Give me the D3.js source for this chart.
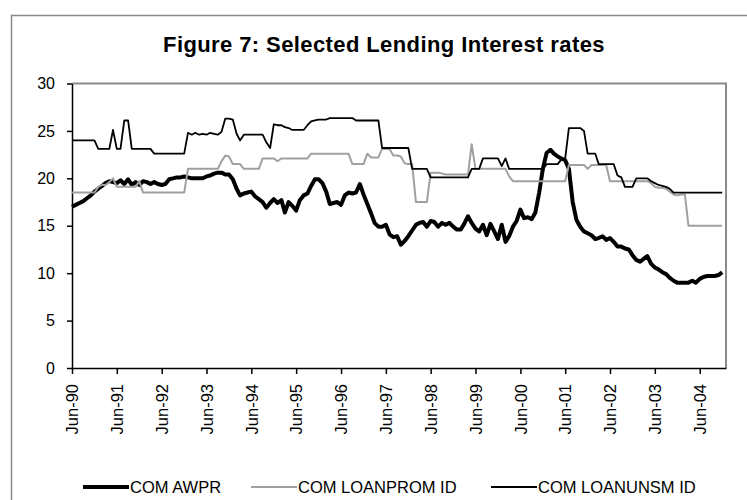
<!DOCTYPE html>
<html>
<head>
<meta charset="utf-8">
<script src="https://cdn.jsdelivr.net/npm/d3@7"></script>
<style>
  body { margin: 0; background: #fff; }
  svg { display: block; font-family: "Liberation Sans", Arial, sans-serif; }
  .axis path, .axis line { stroke: #000; stroke-width: 1.5; }
  .axis text { fill: #000; }
</style>
</head>
<body>
<svg id="chart" width="747" height="500"></svg>
<script>
// monthly observations, Jun-90 .. Dec-04
var firstMonth = new Date(1990, 5, 1),
    afterLast = new Date(2005, 0, 1);

var seriesNames = ["COM AWPR", "COM LOANPROM ID", "COM LOANUNSM ID"];

var comAwpr = [
  17.0,17.2,17.4,17.6,17.9,18.2,18.6,18.9,19.2,19.5,19.7,19.6,
  19.5,19.8,19.4,19.9,19.3,19.6,19.3,19.7,19.6,19.4,19.6,19.4,
  19.3,19.4,19.9,20.0,20.1,20.1,20.2,20.1,20.0,20.0,20.0,20.0,
  20.2,20.3,20.5,20.6,20.6,20.4,20.4,19.9,18.9,18.2,18.4,18.5,
  18.6,18.1,17.8,17.5,16.9,17.4,17.8,17.4,17.7,16.4,17.5,17.1,
  16.6,17.7,18.2,18.4,19.2,19.9,19.9,19.5,18.6,17.3,17.4,17.5,
  17.2,18.2,18.5,18.4,18.5,19.4,18.3,17.3,16.3,15.3,14.9,14.9,
  15.1,14.1,13.8,13.9,13.0,13.4,13.9,14.5,15.1,15.3,15.4,14.9,
  15.5,15.4,14.9,15.3,15.1,15.3,14.9,14.6,14.6,15.2,16.0,15.3,
  14.7,14.4,15.1,14.0,15.2,14.4,13.6,15.1,13.3,13.9,14.9,15.5,
  16.7,15.8,15.9,15.7,16.4,18.5,21.0,22.7,23.0,22.6,22.3,22.1,
  21.9,21.0,17.5,15.6,14.9,14.4,14.2,14.0,13.6,13.7,13.9,13.5,
  13.7,13.3,12.8,12.8,12.6,12.5,11.9,11.4,11.2,11.5,11.8,11.0,
  10.6,10.4,10.1,9.9,9.5,9.2,9.0,9.0,9.0,9.0,9.2,9.0,
  9.4,9.6,9.7,9.7,9.7,9.8,10.1
];

var comLoanPromId = [
  18.5,18.5,18.5,18.5,18.5,18.5,18.5,19.1,19.3,19.3,19.6,20.0,
  19.1,19.1,19.1,19.1,19.1,19.1,19.7,18.5,18.5,18.5,18.5,18.5,
  18.5,18.5,18.5,18.5,18.5,18.5,18.5,21.0,21.0,21.0,21.0,21.0,
  21.0,21.0,21.0,21.0,21.8,22.4,22.3,21.5,21.5,21.5,21.0,21.0,
  21.0,21.0,21.0,22.1,22.1,22.1,22.1,21.8,22.1,22.1,22.1,22.1,
  22.1,22.1,22.1,22.1,22.6,22.6,22.6,22.6,22.6,22.6,22.6,22.6,
  22.6,22.6,22.6,21.5,21.5,21.5,21.5,22.6,22.2,22.2,22.2,23.1,
  23.1,23.1,22.4,22.4,22.3,21.6,21.5,21.5,17.5,17.5,17.5,17.5,
  20.6,20.6,20.6,20.5,20.4,20.4,20.4,20.4,20.4,20.4,20.4,23.6,
  21.0,21.0,21.0,21.0,21.0,21.0,21.0,21.0,21.0,20.2,19.7,19.7,
  19.7,19.7,19.7,19.7,19.7,19.7,19.7,19.7,19.7,19.7,19.7,19.7,
  19.7,21.4,21.4,21.4,21.4,21.4,21.0,21.4,21.4,21.4,21.4,21.4,
  19.7,19.7,19.7,19.7,19.7,19.7,19.7,19.7,19.7,19.7,19.7,19.5,
  19.1,19.0,19.0,18.9,18.6,18.3,18.2,18.3,18.3,15.0,15.0,15.0,
  15.0,15.0,15.0,15.0,15.0,15.0,15.0
];

var comLoanUnsmId = [
  24.0,24.0,24.0,24.0,24.0,24.0,24.0,23.1,23.1,23.1,23.1,25.1,
  23.1,23.1,26.1,26.1,23.1,23.1,23.1,23.1,23.1,23.1,22.6,22.6,
  22.6,22.6,22.6,22.6,22.6,22.6,22.6,24.8,24.6,24.8,24.6,24.7,
  24.6,24.8,24.7,24.6,24.9,26.3,26.3,26.2,24.7,24.0,24.6,24.6,
  24.6,24.6,24.6,24.6,23.8,23.2,25.7,25.6,25.6,25.4,25.3,25.1,
  25.1,25.1,25.1,25.6,26.0,26.1,26.2,26.2,26.2,26.35,26.35,26.35,
  26.35,26.35,26.35,26.35,26.1,26.1,26.1,26.1,26.1,26.1,26.1,23.2,
  23.2,23.2,23.2,23.2,23.2,23.2,23.2,21.0,21.0,21.0,21.0,21.0,
  20.1,20.1,20.1,20.1,20.1,20.1,20.1,20.1,20.1,20.1,20.1,21.0,
  21.0,21.0,22.1,22.1,22.1,22.1,22.1,21.3,22.1,21.0,21.0,21.0,
  21.0,21.0,21.0,21.0,21.0,21.0,21.0,21.5,21.5,21.5,21.5,22.0,
  22.1,25.3,25.3,25.3,25.3,25.0,22.6,22.6,22.6,21.5,21.5,21.5,
  21.5,21.5,20.3,20.1,19.1,19.1,19.1,20.0,20.0,20.0,20.0,19.7,
  19.5,19.3,19.2,19.1,18.9,18.5,18.5,18.5,18.5,18.5,18.5,18.5,
  18.5,18.5,18.5,18.5,18.5,18.5,18.5
];

var yTicks = [0, 5, 10, 15, 20, 25, 30];
var xTickYears = [1990, 1991, 1992, 1993, 1994, 1995, 1996, 1997, 1998, 1999, 2000, 2001, 2002, 2003, 2004];

var svg = d3.select("#chart");
var plot = {left: 72, top: 83.5, right: 726, bottom: 368};

var months = d3.timeMonth.range(firstMonth, afterLast);

var x = d3.scaleTime()
    .domain([firstMonth, afterLast])
    .range([plot.left, plot.right]);

var y = d3.scaleLinear()
    .domain([0, 30])
    .range([plot.bottom, plot.top]);

// outer chart frame (runs off the bottom/right of the picture)
svg.append("rect")
    .attr("x", 11.5).attr("y", 15.5)
    .attr("width", 800).attr("height", 600)
    .attr("fill", "none")
    .attr("stroke", "#8a8a8a")
    .attr("stroke-width", 1.5);

svg.append("text")
    .attr("x", 384)
    .attr("y", 52)
    .attr("text-anchor", "middle")
    .style("font-size", "22px")
    .style("font-weight", "bold")
    .style("letter-spacing", "0.4px")
    .text("Figure 7: Selected Lending Interest rates");

// plot area border, top and right in grey
svg.append("path")
    .attr("d", "M" + plot.left + "," + plot.top + "H" + plot.right + "V" + plot.bottom)
    .attr("fill", "none")
    .attr("stroke", "#8a8a8a")
    .attr("stroke-width", 2);

var yAxis = svg.append("g")
    .attr("class", "axis")
    .attr("transform", "translate(" + plot.left + ",0)")
    .call(d3.axisLeft(y).tickValues(yTicks).tickSize(5).tickPadding(12).tickSizeOuter(0));
yAxis.selectAll("text").style("font-size", "16px");

var xAxis = svg.append("g")
    .attr("class", "axis")
    .attr("transform", "translate(0," + plot.bottom + ")")
    .call(d3.axisBottom(x)
      .tickValues(xTickYears.map(function(yr) { return new Date(yr, 5, 1); }))
      .tickFormat(d3.timeFormat("%b-%y"))
      .tickSize(6)
      .tickSizeOuter(0));
xAxis.selectAll("text")
    .style("font-size", "16.5px")
    .attr("text-anchor", "end")
    .attr("transform", "rotate(-90)")
    .attr("x", -16)
    .attr("y", 0)
    .attr("dy", "0.35em");

var series = [
  {name: seriesNames[0], values: comAwpr, color: "#000", width: 4},
  {name: seriesNames[1], values: comLoanPromId, color: "#a0a0a0", width: 2},
  {name: seriesNames[2], values: comLoanUnsmId, color: "#000", width: 1.8}
];

var line = d3.line()
    .x(function(d, i) { return x(months[i]); })
    .y(function(d) { return y(d); });

svg.append("g")
  .selectAll("path")
  .data(series)
  .enter().append("path")
    .attr("d", function(d) { return line(d.values); })
    .attr("fill", "none")
    .attr("stroke", function(d) { return d.color; })
    .attr("stroke-width", function(d) { return d.width; })
    .attr("stroke-linejoin", "round");

// legend
var legendX = [83, 251, 491];
var legend = svg.append("g")
  .selectAll("g")
  .data(series)
  .enter().append("g")
    .attr("transform", function(d, i) { return "translate(" + legendX[i] + ",487)"; });

legend.append("line")
    .attr("x1", 0).attr("x2", 46)
    .attr("stroke", function(d) { return d.color; })
    .attr("stroke-width", function(d) { return d.width; });

legend.append("text")
    .attr("x", 47)
    .attr("dy", "0.36em")
    .style("font-size", "16.5px")
    .text(function(d) { return d.name; });
</script>
</body>
</html>
